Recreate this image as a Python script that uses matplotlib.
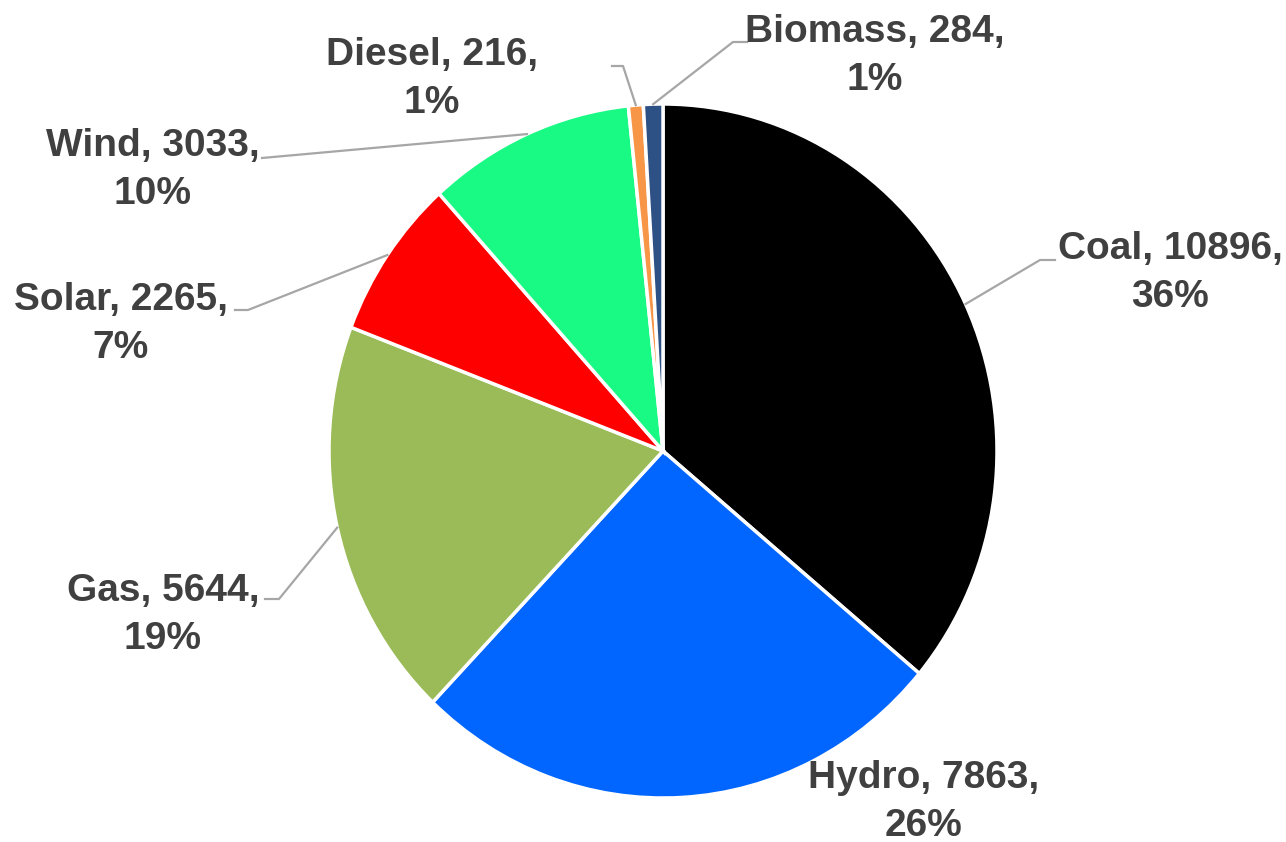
import numpy as np
import matplotlib
matplotlib.use('Agg')
import matplotlib.pyplot as plt

plt.rcParams['font.family'] = ['Liberation Sans', 'DejaVu Sans']

# installed capacity by source
sources = ['Coal', 'Hydro', 'Gas', 'Solar', 'Wind', 'Diesel', 'Biomass']
capacity = [10896, 7863, 5644, 2265, 3033, 216, 284]
colors = ['#000000', '#0066FF', '#9BBB59', '#FF0000', '#19FA85', '#F79646', '#2E5185']

# label layout in pixels of the 1286x842 picture
W, H = 1286, 842
cx, cy, rx, ry = 663, 451, 334, 347
label_pos = [(1170, 273), (924, 802), (163, 615), (121, 324), (153, 170), (432, 79), (875, 56)]
# leader lines: (start x, start y, elbow x) - None means no line
leaders = [(1055, 260, 1040), None, (265, 599, 279), (235, 310, 248),
           (262, 158, 262), (612, 66, 623), (747, 42, 733)]


def to_data(px, py):
    return (px - cx) / rx, (cy - py) / ry


fig = plt.figure(figsize=(W / 100, H / 100), dpi=100)
ax = fig.add_axes([(cx - rx) / W, (H - cy - ry) / H, 2 * rx / W, 2 * ry / H])

wedges, _ = ax.pie(capacity, colors=colors, startangle=90, counterclock=False,
                   wedgeprops=dict(edgecolor='white', linewidth=2.5))
ax.set_aspect('auto')
ax.set_xlim(-1, 1)
ax.set_ylim(-1, 1)
ax.axis('off')

total = sum(capacity)
for i, w in enumerate(wedges):
    pct = round(100 * capacity[i] / total)
    tx, ty = to_data(*label_pos[i])
    ax.text(tx, ty, f'{sources[i]}, {capacity[i]},\n{pct}%', ha='center', va='center',
            fontsize=28, fontweight='bold', color='#404040', linespacing=1.42,
            clip_on=False)
    if leaders[i] is None:
        continue
    mid = np.deg2rad((w.theta1 + w.theta2) / 2)
    ex, ey = np.cos(mid), np.sin(mid)
    sx, sy = to_data(leaders[i][0], leaders[i][1])
    bx, _ = to_data(leaders[i][2], leaders[i][1])
    ax.plot([sx, bx, ex], [sy, sy, ey], color='#A6A6A6', lw=1.6, clip_on=False)

fig.savefig('out.png', dpi=100)
